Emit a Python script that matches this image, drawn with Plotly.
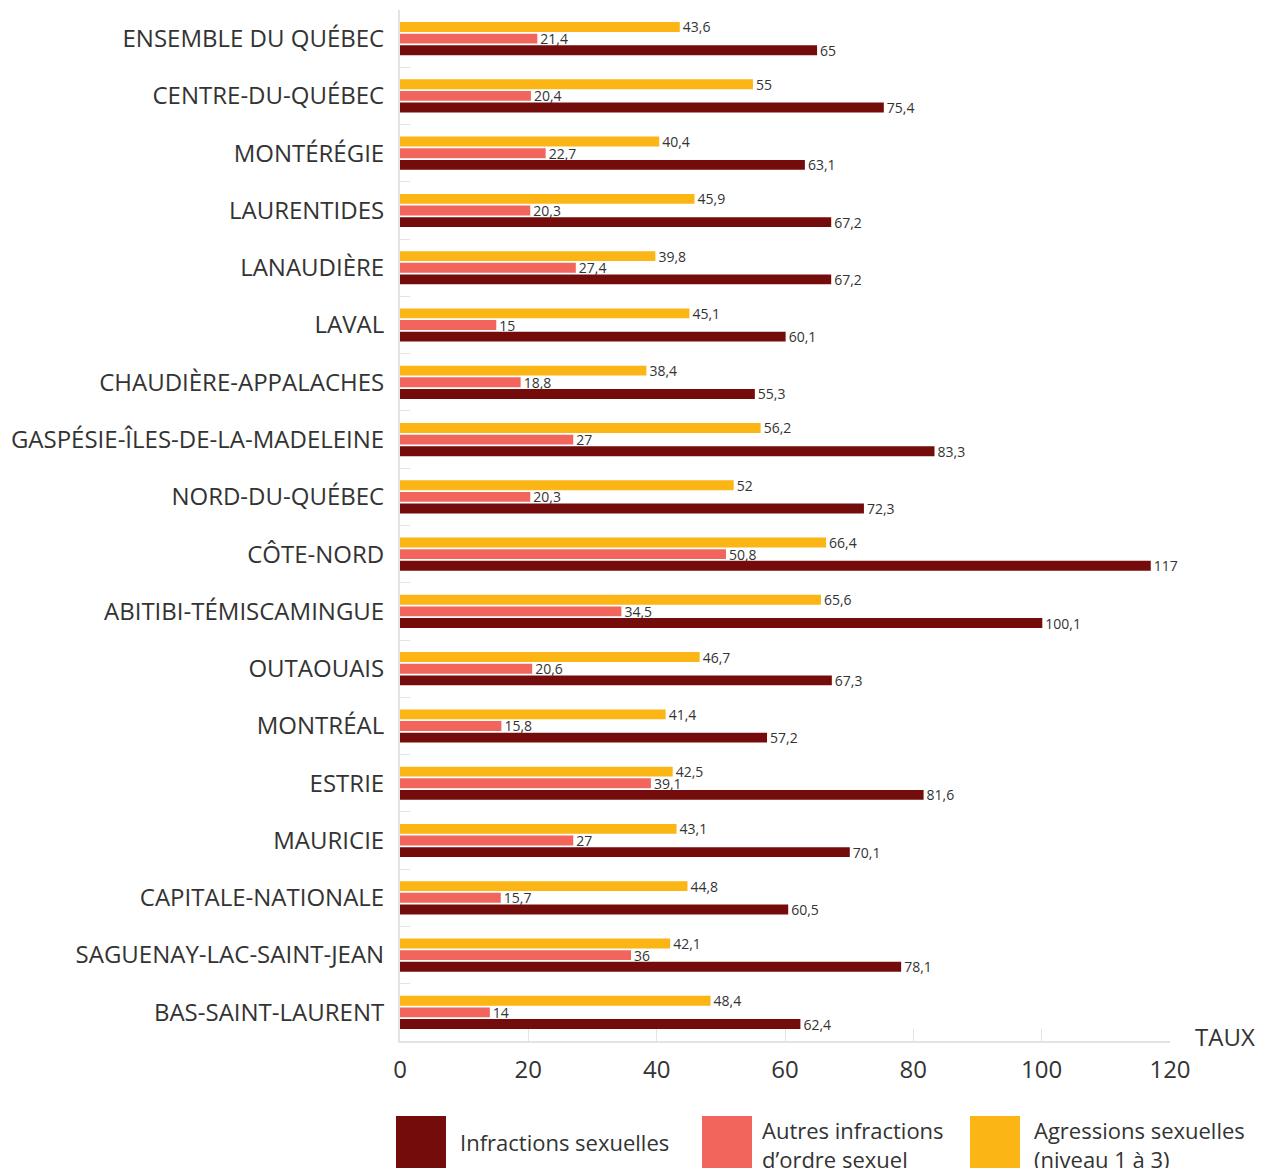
import plotly.graph_objects as go

regions = [
    "ENSEMBLE DU QUÉBEC", "CENTRE-DU-QUÉBEC", "MONTÉRÉGIE", "LAURENTIDES",
    "LANAUDIÈRE", "LAVAL", "CHAUDIÈRE-APPALACHES", "GASPÉSIE-ÎLES-DE-LA-MADELEINE",
    "NORD-DU-QUÉBEC", "CÔTE-NORD", "ABITIBI-TÉMISCAMINGUE", "OUTAOUAIS",
    "MONTRÉAL", "ESTRIE", "MAURICIE", "CAPITALE-NATIONALE",
    "SAGUENAY-LAC-SAINT-JEAN", "BAS-SAINT-LAURENT",
]
agressions = [43.6, 55, 40.4, 45.9, 39.8, 45.1, 38.4, 56.2, 52, 66.4, 65.6, 46.7, 41.4, 42.5, 43.1, 44.8, 42.1, 48.4]
autres = [21.4, 20.4, 22.7, 20.3, 27.4, 15, 18.8, 27, 20.3, 50.8, 34.5, 20.6, 15.8, 39.1, 27, 15.7, 36, 14]
infractions = [65, 75.4, 63.1, 67.2, 67.2, 60.1, 55.3, 83.3, 72.3, 117, 100.1, 67.3, 57.2, 81.6, 70.1, 60.5, 78.1, 62.4]
x_ticks = [0, 20, 40, 60, 80, 100, 120]

names = ["Agressions sexuelles (niveau 1 à 3)", "Autres infractions d'ordre sexuel", "Infractions sexuelles"]
colors = ["#FBB515", "#F2655D", "#750C0C"]
series = [agressions, autres, infractions]

def fmt(v):
    return f"{v:g}".replace(".", ",")

FONT = "Open Sans"
TXT = "#333333"

fig = go.Figure()
for name, vals, col in zip(names, series, colors):
    fig.add_trace(go.Bar(
        y=regions, x=vals, orientation="h", name=name,
        marker=dict(color=col, line=dict(width=0)),
        text=[fmt(v) for v in vals], textposition="outside",
        textfont=dict(family=FONT, size=14, color=TXT),
        constraintext="none", cliponaxis=False, showlegend=False,
    ))

# page has an 8px body margin; figure is sized to fill the rest of the window
OFF = 8
W, H = 1271 - OFF, 1168 - OFF
L, T = 400 - OFF, 10 - OFF
R = W - (1170 - OFF)
B = H - (1041 - OFF)
pw, ph = W - L - R, H - T - B

def px(x):
    return (x - OFF - L) / pw

def py(y):
    return (H - B - (y - OFF)) / ph

shapes = []
annotations = []
legend_items = [
    (396, "#750C0C", 460, "Infractions sexuelles", 1142),
    (702, "#F2655D", 762, "Autres infractions<br>d’ordre sexuel", 1145),
    (970, "#FBB515", 1034, "Agressions sexuelles<br>(niveau 1 à 3)", 1145),
]
for sx, col, tx, label, ty in legend_items:
    shapes.append(dict(type="rect", xref="paper", yref="paper",
                       x0=px(sx), x1=px(sx + 50), y0=py(1170), y1=py(1116),
                       fillcolor=col, line=dict(width=0), layer="above"))
    annotations.append(dict(xref="paper", yref="paper", x=px(tx - 2), y=py(ty),
                            xanchor="left", yanchor="middle", align="left",
                            text=label, showarrow=False,
                            font=dict(family=FONT, size=22, color=TXT)))

annotations.append(dict(xref="paper", yref="paper", x=px(1257), y=py(1036),
                        xanchor="right", yanchor="middle", text="TAUX",
                        showarrow=False, font=dict(family=FONT, size=24, color=TXT)))

fig.update_layout(
    width=W, height=H,
    margin=dict(l=L, r=R, t=T, b=B),
    barmode="group", bargap=0.39, bargroupgap=0.15,
    plot_bgcolor="white", paper_bgcolor="white",
    font=dict(family=FONT, color=TXT),
    shapes=shapes, annotations=annotations,
    xaxis=dict(range=[0, 120], tickvals=x_ticks, ticktext=[str(t) for t in x_ticks],
               showgrid=False, zeroline=False, showline=True, linecolor="#E3E3E3", linewidth=2,
               ticks="inside", ticklen=12, tickcolor="#E3E3E3", tickwidth=1,
               tickfont=dict(family=FONT, size=24, color=TXT), ticklabelstandoff=6),
    yaxis=dict(autorange="reversed", showgrid=False, zeroline=False,
               showline=True, linecolor="#E3E3E3", linewidth=2,
               ticks="inside", tickson="boundaries", ticklen=10, tickcolor="#E3E3E3",
               tickfont=dict(family=FONT, size=24, color=TXT), ticklabelstandoff=9),
)

fig.write_html("out.html")
